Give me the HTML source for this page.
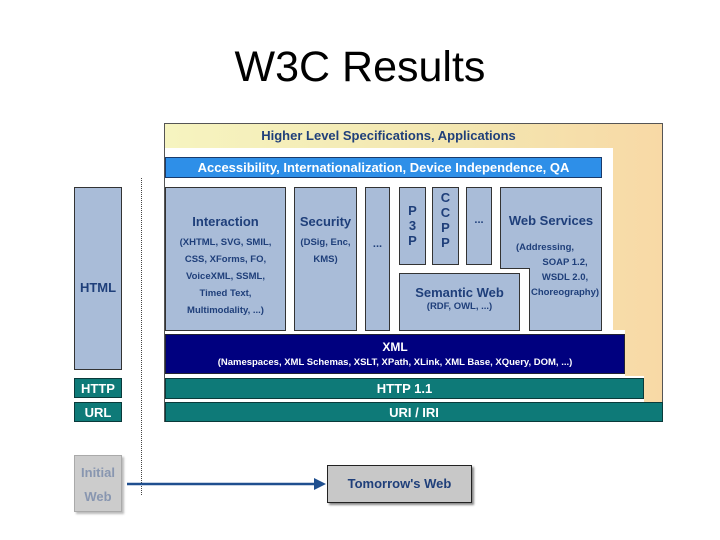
<!DOCTYPE html>
<html><head><meta charset="utf-8"><style>
body{margin:0;width:720px;height:540px;background:#fff;position:relative;overflow:hidden;font-family:"Liberation Sans",sans-serif}
.a{position:absolute;box-sizing:border-box;text-align:center;font-weight:bold}
.lb{background:#a9bcd8;border:1px solid #333;color:#1f3f7a}
.tl{background:#0e7a78;border:1px solid #0a3a3a;color:#fff}
.s{font-size:9.5px;line-height:17px;color:#1f3f7a}
</style></head><body>
<div class="a" style="left:0;top:43px;width:720px;font-size:43px;font-weight:normal;color:#000">W3C Results</div>
<div class="a" style="left:164px;top:123px;width:499px;height:299px;background:linear-gradient(90deg,#f6f4c0,#f3e6b0 60%,#f8d9a6);border:1px solid #555"></div>
<div class="a" style="left:165px;top:148px;width:448px;height:187px;background:#fff"></div>
<div class="a" style="left:165px;top:330px;width:460px;height:48px;background:#fff"></div>
<div class="a" style="left:165px;top:376px;width:479px;height:26px;background:#fff"></div>
<div class="a" style="left:164px;top:123px;width:449px;height:25px;font-size:13px;line-height:26px;color:#1f3f7a">Higher Level Specifications, Applications</div>
<div class="a" style="left:165px;top:157px;width:437px;height:21px;background:#2e8fe8;border:1px solid #1a3a6a;color:#fff;font-size:13px;line-height:20px">Accessibility, Internationalization, Device Independence, QA</div>
<div class="a lb" style="left:165px;top:187px;width:121px;height:144px"><div style="font-size:13px;margin-top:26px">Interaction</div><div class="s" style="margin-top:5px">(XHTML, SVG, SMIL,<br>CSS, XForms, FO,<br>VoiceXML, SSML,<br>Timed Text,<br>Multimodality, ...)</div></div>
<div class="a lb" style="left:294px;top:187px;width:63px;height:144px"><div style="font-size:13px;margin-top:26px">Security</div><div class="s" style="margin-top:5px">(DSig, Enc,<br>KMS)</div></div>
<div class="a lb" style="left:365px;top:187px;width:25px;height:144px;font-size:11px;padding-top:50px">...</div>
<div class="a lb" style="left:399px;top:187px;width:27px;height:78px;font-size:13px;line-height:15px;padding-top:15px">P<br>3<br>P</div>
<div class="a lb" style="left:432px;top:187px;width:27px;height:78px;font-size:13px;line-height:15px;padding-top:2px">C<br>C<br>P<br>P</div>
<div class="a lb" style="left:466px;top:187px;width:26px;height:78px;font-size:11px;padding-top:26px">...</div>
<svg style="position:absolute;left:0;top:0" width="720" height="540"><path d="M500.5 187.5H601.5V330.5H529.5V268.5H500.5Z" fill="#a9bcd8" stroke="#333"/></svg>
<div class="a lb" style="left:399px;top:273px;width:121px;height:58px"><div style="font-size:13px;margin-top:11px">Semantic Web</div><div class="s" style="line-height:14px">(RDF, OWL, ...)</div></div>
<div class="a" style="left:500px;top:213px;width:102px;font-size:13px;color:#1f3f7a">Web Services</div>
<div class="a s" style="left:510px;top:240px;width:70px;line-height:15px">(Addressing,</div>
<div class="a s" style="left:529px;top:255px;width:72px;line-height:15px">SOAP 1.2,<br>WSDL 2.0,<br>Choreography)</div>
<div class="a" style="left:165px;top:334px;width:460px;height:40px;background:#00007f;border:1px solid #223;color:#fff"><div style="font-size:12px;margin-top:5px">XML</div><div style="font-size:9.5px;margin-top:3px">(Namespaces, XML Schemas, XSLT, XPath, XLink, XML Base, XQuery, DOM, ...)</div></div>
<div class="a tl" style="left:165px;top:378px;width:479px;height:21px;font-size:13px;line-height:20px">HTTP 1.1</div>
<div class="a tl" style="left:165px;top:402px;width:498px;height:20px;font-size:13px;line-height:19px">URI / IRI</div>
<div class="a lb" style="left:74px;top:187px;width:48px;height:183px;font-size:13px;line-height:200px">HTML</div>
<div class="a tl" style="left:74px;top:378px;width:48px;height:20px;font-size:13px;line-height:19px">HTTP</div>
<div class="a tl" style="left:74px;top:402px;width:48px;height:20px;font-size:13px;line-height:19px">URL</div>
<div style="position:absolute;left:141px;top:178px;height:317px;border-left:1px dotted #444"></div>
<div class="a" style="left:74px;top:455px;width:48px;height:57px;background:#ccc;border:1px solid #aaa;color:#8896b0;font-size:13px;line-height:24px;padding-top:5px;box-shadow:2px 2px 2px #bbb">Initial<br>Web</div>
<svg style="position:absolute;left:0;top:0" width="720" height="540"><line x1="127" y1="484" x2="316" y2="484" stroke="#1f4f8f" stroke-width="2.5"/><path d="M314 478L326 484L314 490Z" fill="#1f4f8f"/></svg>
<div class="a" style="left:327px;top:465px;width:145px;height:38px;background:#c8c8c8;border:1px solid #222;color:#1f3f7a;font-size:13px;line-height:36px;box-shadow:2px 2px 2px #888">Tomorrow's Web</div>
</body></html>
